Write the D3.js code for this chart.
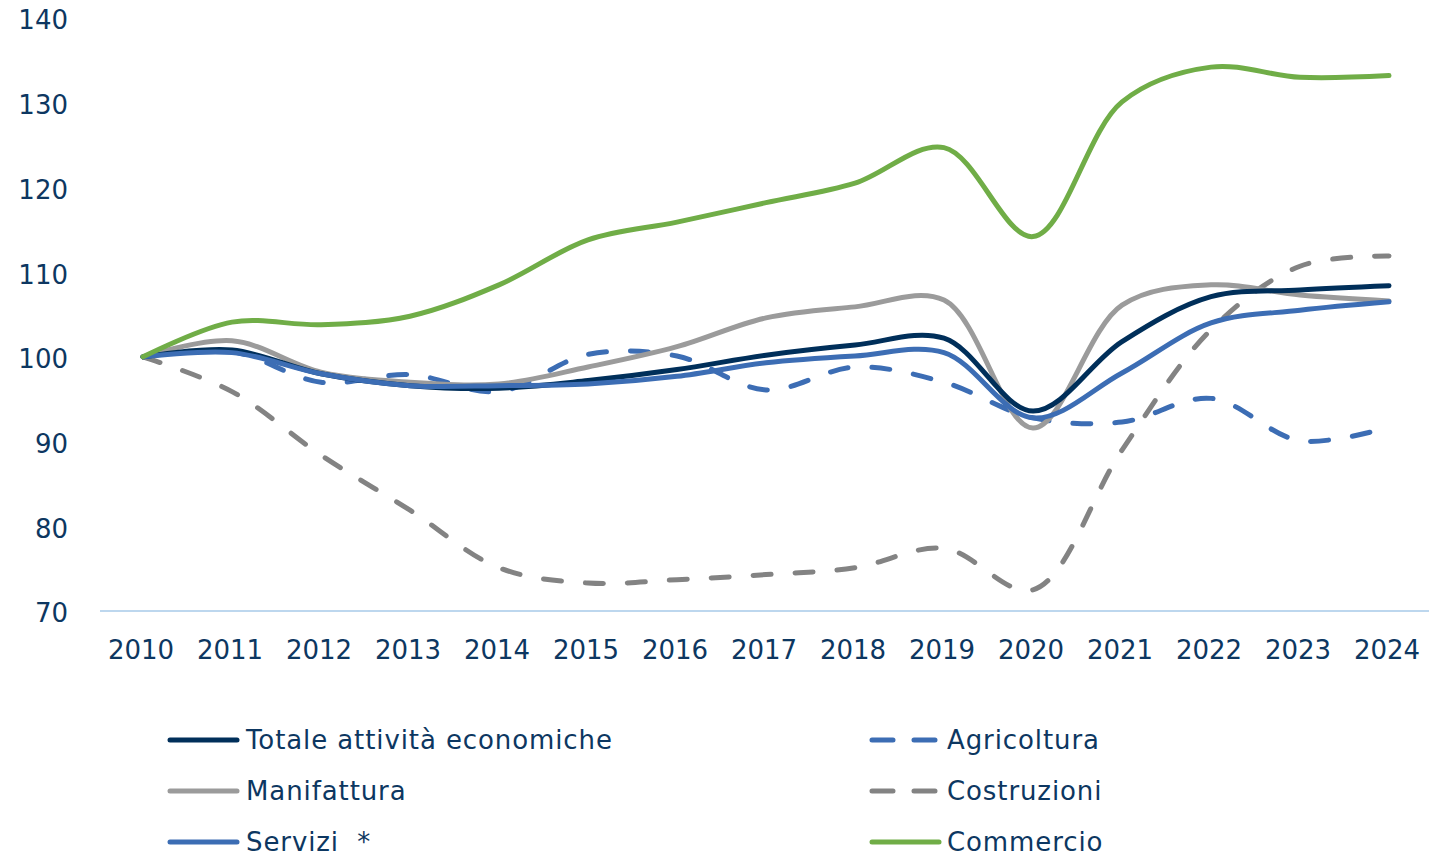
<!DOCTYPE html>
<html><head><meta charset="utf-8">
<script src="https://cdn.jsdelivr.net/npm/d3@7"></script>
<style>
html,body{margin:0;padding:0;background:#fff;}
svg{display:block;}
text{font-family:"DejaVu Sans",sans-serif;fill:#0D3761;}
</style></head>
<body>
<svg id="c" width="1429" height="857"></svg>
<script>
const years = [2010,2011,2012,2013,2014,2015,2016,2017,2018,2019,2020,2021,2022,2023,2024];
const yTicks = [70,80,90,100,110,120,130,140];

const totale      = [100,100.8,98.0,96.6,96.3,97.2,98.5,100.2,101.4,102.2,93.6,101.8,107.1,107.9,108.4];
const manifattura = [100,101.9,98.2,97.0,96.8,98.8,101.2,104.6,105.9,106.7,91.6,106.1,108.5,107.3,106.6];
const servizi     = [100,100.5,98.0,96.6,96.6,96.8,97.7,99.3,100.1,100.5,92.8,98.1,104.0,105.5,106.5];
const agricoltura = [100,100.6,97.0,97.9,95.9,100.3,100.1,96.1,98.8,97.0,92.8,92.3,95.1,90.1,91.7];
const costruzioni = [100,95.9,88.4,81.9,75.1,73.3,73.7,74.3,75.1,77.4,72.5,89.0,103.2,110.7,111.9];
const commercio   = [100,104.1,103.8,104.8,108.5,113.8,115.9,118.2,120.5,124.7,114.2,130.1,134.2,133.0,133.2];

const series = [
  {name:"Totale attività economiche", values:totale, color:"#002F5A", dash:null},
  {name:"Agricoltura", values:agricoltura, color:"#3C6DB4", dash:"18 24"},
  {name:"Manifattura", values:manifattura, color:"#9B9B9B", dash:null},
  {name:"Costruzioni", values:costruzioni, color:"#838383", dash:"18 24"},
  {name:"Servizi\u00a0 *", values:servizi, color:"#3C6DB4", dash:null},
  {name:"Commercio", values:commercio, color:"#70AD47", dash:null}
];
const drawOrder = [3,1,2,0,4,5];

const svg = d3.select("#c");
const x = d3.scalePoint().domain(years).range([143,1389]);
const y = d3.scaleLinear().domain([70,140]).range([611,18]);

// axis line
svg.append("line").attr("x1",100).attr("x2",1429).attr("y1",y(70)).attr("y2",y(70))
  .attr("stroke","#BDD7EE").attr("stroke-width",2);

// y labels
svg.append("g").selectAll("text").data(yTicks).join("text")
  .attr("x",68).attr("y",d=>y(d)+2).attr("dy","0.36em").attr("text-anchor","end")
  .attr("font-size",26).text(d=>d);

// x labels
svg.append("g").selectAll("text").data(years).join("text")
  .attr("x",d=>x(d)-2).attr("y",650).attr("dy","0.36em").attr("text-anchor","middle")
  .attr("font-size",26).text(d=>d);

const line = d3.line().x((d,i)=>x(years[i])).y(d=>y(d)).curve(d3.curveCatmullRom.alpha(0.5));

svg.append("g").selectAll("path").data(drawOrder.map(i=>series[i])).join("path")
  .attr("d",d=>line(d.values)).attr("fill","none")
  .attr("stroke",d=>d.color).attr("stroke-width",5)
  .attr("stroke-linecap","round").attr("stroke-linejoin","round")
  .attr("stroke-dasharray",d=>d.dash);

// legend
const leg = svg.append("g");
series.forEach((s,i)=>{
  const col = i%2, row = Math.floor(i/2);
  const lx = col===0 ? 170 : 872;
  const ly = 740 + row*51;
  leg.append("line").attr("x1",lx).attr("x2",lx+67).attr("y1",ly).attr("y2",ly)
    .attr("stroke",s.color).attr("stroke-width",5).attr("stroke-linecap","round")
    .attr("stroke-dasharray",s.dash ? "21 21" : null);
  leg.append("text").attr("x",col===0?246:947).attr("y",ly).attr("dy","0.36em")
    .attr("font-size",26).attr("letter-spacing","0.9px").text(s.name);
});
</script>
</body></html>
